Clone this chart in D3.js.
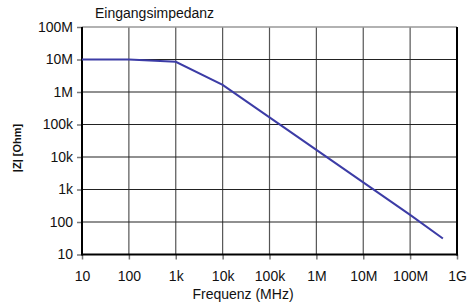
<!DOCTYPE html>
<html><head><meta charset="utf-8">
<script src="https://cdn.jsdelivr.net/npm/d3@7"></script>
<style>body{margin:0;background:#fff}svg{display:block}text{font-family:"Liberation Sans",Arial,sans-serif;fill:#111}</style>
</head><body><svg id="c" width="475" height="305"></svg>
<script>
const freq = [10, 100, 1e3, 1e4, 1e5, 1e6, 1e7, 1e8, 5e8];
const impedance = [1e7, 1e7, 8.5e6, 1.65e6, 1.65e5, 1.65e4, 1.65e3, 165, 31];
const xTicks = [10, 100, 1e3, 1e4, 1e5, 1e6, 1e7, 1e8, 1e9];
const xTickLabels = ["10", "100", "1k", "10k", "100k", "1M", "10M", "100M", "1G"];
const yTicks = [10, 100, 1e3, 1e4, 1e5, 1e6, 1e7, 1e8];
const yTickLabels = ["10", "100", "1k", "10k", "100k", "1M", "10M", "100M"];

const L = 82, R = 457, T = 27, B = 254.5;
const svg = d3.select("#c");
const x = d3.scaleLog().domain([10, 1e9]).range([L, R]);
const y = d3.scaleLog().domain([10, 1e8]).range([B, T]);

// grid
svg.append("g").selectAll("line").data(xTicks.slice(1, -1)).join("line")
  .attr("x1", d => x(d)).attr("x2", d => x(d)).attr("y1", T).attr("y2", B)
  .attr("stroke", "#555").attr("stroke-width", 1.2);
svg.append("g").selectAll("line").data(yTicks.slice(1, -1)).join("line")
  .attr("x1", L).attr("x2", R).attr("y1", d => y(d)).attr("y2", d => y(d))
  .attr("stroke", "#222").attr("stroke-width", 1.2);
// top border
svg.append("line").attr("x1", L).attr("x2", R).attr("y1", T).attr("y2", T).attr("stroke", "#999").attr("stroke-width", 1.5);

// axes
const xAxis = d3.axisBottom(x).tickValues(xTicks).tickFormat((d, i) => xTickLabels[i]).tickSize(5).tickPadding(11.5);
const gx = svg.append("g").attr("transform", `translate(0,${B})`).call(xAxis);
gx.select(".domain").remove();
gx.selectAll("line").attr("stroke", "#777").attr("stroke-width", 1.5);
gx.selectAll("text").style("font-size", "14px").attr("fill", "#111");

const yAxis = d3.axisLeft(y).tickValues(yTicks).tickFormat((d, i) => yTickLabels[i]).tickSize(5).tickPadding(4);
const gy = svg.append("g").attr("transform", `translate(${L},0)`).call(yAxis);
gy.select(".domain").remove();
gy.selectAll("line").attr("stroke", "#777").attr("stroke-width", 1.5);
gy.selectAll("text").style("font-size", "14px").attr("fill", "#111");

// frame lines
svg.append("line").attr("x1", L).attr("x2", L).attr("y1", T).attr("y2", B + 1).attr("stroke", "#000").attr("stroke-width", 2);
svg.append("line").attr("x1", R).attr("x2", R).attr("y1", T).attr("y2", B + 1).attr("stroke", "#000").attr("stroke-width", 2);
svg.append("line").attr("x1", L).attr("x2", R + 1).attr("y1", B).attr("y2", B).attr("stroke", "#000").attr("stroke-width", 2);

// line
const data = freq.map((f, i) => [f, impedance[i]]);
svg.append("path").datum(data)
  .attr("d", d3.line().x(d => x(d[0])).y(d => y(d[1])))
  .attr("fill", "none").attr("stroke", "#3c3ca6").attr("stroke-width", 2);

// titles
svg.append("text").attr("x", 95).attr("y", 18).style("font-size", "14px").text("Eingangsimpedanz");
svg.append("text").attr("x", 243).attr("y", 299).attr("text-anchor", "middle").style("font-size", "14px").text("Frequenz (MHz)");
svg.append("text").attr("transform", "translate(21,148) rotate(-90)").attr("text-anchor", "middle")
  .style("font-size", "11px").style("font-weight", "bold").text("|Z| [Ohm]");
</script></body></html>
